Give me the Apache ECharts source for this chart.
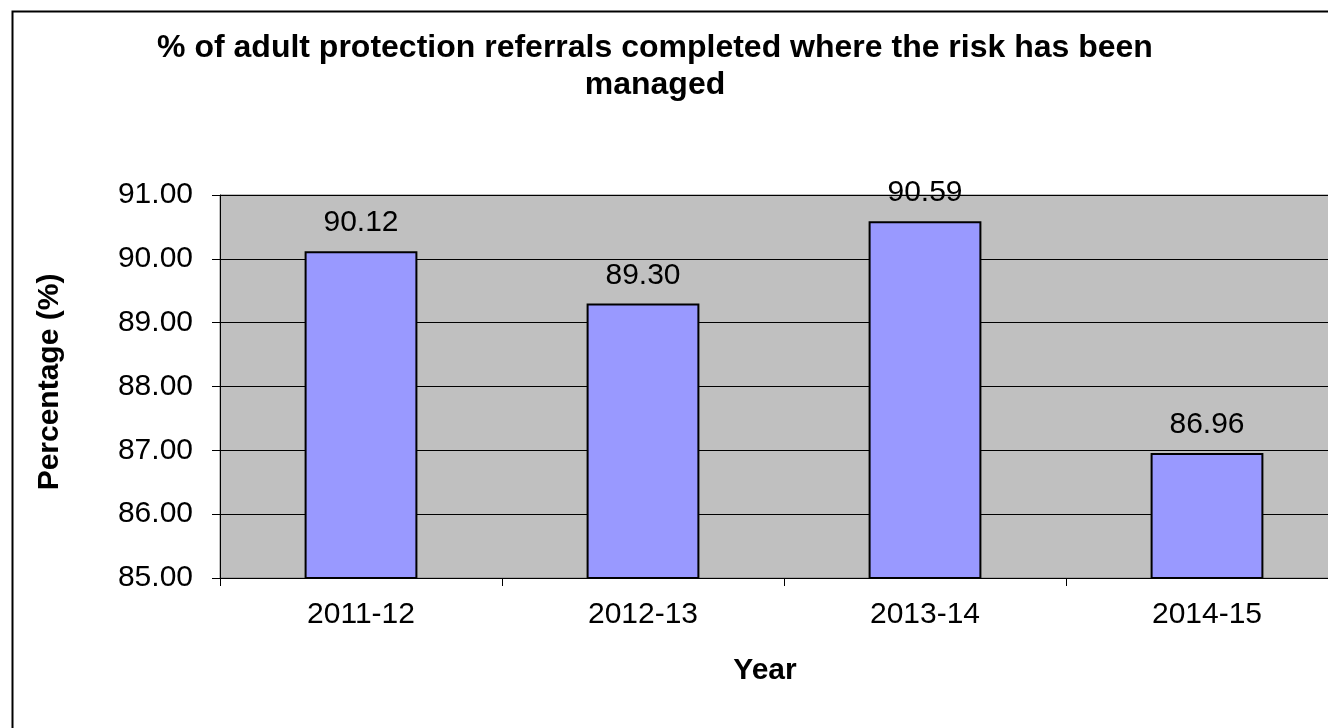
<!DOCTYPE html>
<html>
<head>
<meta charset="utf-8">
<script src="https://cdn.jsdelivr.net/npm/echarts@6/dist/echarts.min.js"></script>
<style>
html,body{margin:0;padding:0;background:#fff;overflow:hidden;}
#wrap{width:1328px;height:728px;overflow:hidden;position:relative;}
#chart{width:1348px;height:728px;}
</style>
</head>
<body>
<div id="wrap"><div id="chart"></div></div>
<script>
const categories = ['2011-12', '2012-13', '2013-14', '2014-15'];
const values = [90.12, 89.30, 90.59, 86.96];
const titleText = '% of adult protection referrals completed where the risk has been\nmanaged';
const yAxisTitle = 'Percentage (%)';
const xAxisTitle = 'Year';
const yMin = 85, yMax = 91, yStep = 1;

const FONT = '"Liberation Sans", Arial, sans-serif';
const chart = echarts.init(document.getElementById('chart'), null, {renderer: 'canvas'});
chart.setOption({
  backgroundColor: '#ffffff',
  animation: false,
  title: {
    text: titleText,
    left: 650,
    top: 25,
    textAlign: 'center',
    textStyle: {fontFamily: FONT, fontSize: 32, fontWeight: 'bold', color: '#000', lineHeight: 37}
  },
  graphic: [
    {type: 'rect', left: 10, top: 9, silent: true, z: -10,
     shape: {x: 0, y: 0, width: 1360, height: 740},
     style: {fill: 'none', stroke: '#000', lineWidth: 2}},
    {type: 'text', x: 50, y: 382, rotation: Math.PI / 2,
     style: {text: yAxisTitle, fontFamily: FONT, fontSize: 30, fontWeight: 'bold', fill: '#000',
             align: 'center', verticalAlign: 'middle'}},
    {type: 'text', x: 765, y: 671,
     style: {text: xAxisTitle, fontFamily: FONT, fontSize: 30, fontWeight: 'bold', fill: '#000',
             align: 'center', verticalAlign: 'middle'}}
  ],
  grid: {
    left: 220, top: 195, right: 0, bottom: 150,
    show: true, backgroundColor: '#C0C0C0', borderColor: '#808080', borderWidth: 1,
    containLabel: false, outerBoundsMode: 'none'
  },
  xAxis: {
    type: 'category',
    data: categories,
    axisLine: {show: true, lineStyle: {color: '#000', width: 1}},
    axisTick: {show: true, alignWithLabel: false, length: 8, lineStyle: {color: '#000'}},
    axisLabel: {fontFamily: FONT, fontSize: 30, color: '#000', margin: 22},
    splitLine: {show: false}
  },
  yAxis: {
    type: 'value',
    min: yMin, max: yMax, interval: yStep,
    axisLine: {show: true, lineStyle: {color: '#000', width: 1}},
    axisTick: {show: true, length: 8, lineStyle: {color: '#000'}},
    axisLabel: {fontFamily: FONT, fontSize: 30, color: '#000', margin: 27,
                formatter: v => v.toFixed(2)},
    splitLine: {show: true, lineStyle: {color: '#000', width: 1}}
  },
  series: [{
    type: 'bar',
    data: values,
    barWidth: '40%',
    itemStyle: {color: '#9999FF', borderColor: '#000', borderWidth: 2},
    label: {show: true, position: 'top', distance: 13, fontFamily: FONT, fontSize: 30, color: '#000',
            formatter: p => p.value.toFixed(2)}
  }]
});
</script>
</body>
</html>
